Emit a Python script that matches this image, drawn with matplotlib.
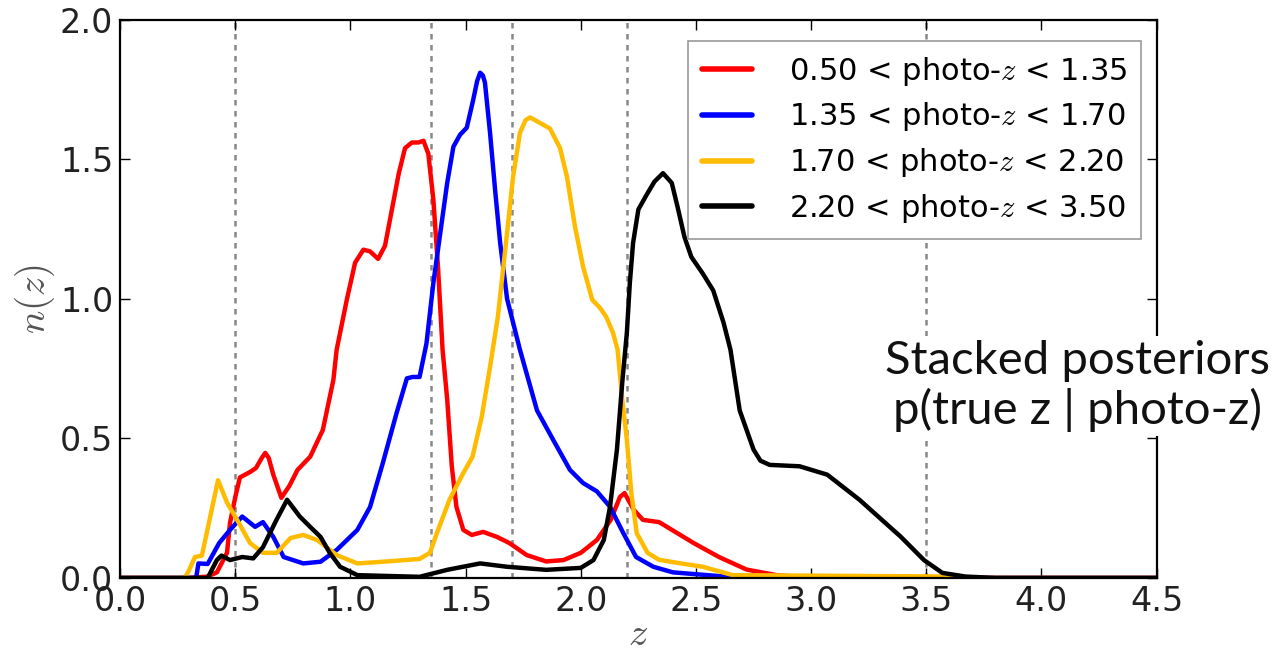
import matplotlib
matplotlib.use("Agg")
import matplotlib.pyplot as plt

# bin edges in photo-z (dashed lines)
bin_edges = [0.5, 1.35, 1.7, 2.2, 3.5]
labels = [
    r"0.50 < photo-$z$ < 1.35",
    r"1.35 < photo-$z$ < 1.70",
    r"1.70 < photo-$z$ < 2.20",
    r"2.20 < photo-$z$ < 3.50",
]

# stacked posteriors
red_z = [0.0, 0.30, 0.38, 0.42, 0.464, 0.477, 0.50, 0.52, 0.565, 0.59, 0.615, 0.63, 0.645,
         0.665, 0.70, 0.735, 0.77, 0.825, 0.88, 0.926, 0.94, 0.984, 1.02, 1.056, 1.085,
         1.12, 1.15, 1.18, 1.21, 1.237, 1.267, 1.295, 1.317, 1.338, 1.36, 1.38, 1.40, 1.42,
         1.44, 1.46, 1.49, 1.527, 1.576, 1.636, 1.69, 1.765, 1.85, 1.925, 2.0, 2.07, 2.13,
         2.17, 2.19, 2.23, 2.27, 2.34, 2.42, 2.49, 2.60, 2.72, 2.85, 3.0, 4.5]
red_n = [0.0, 0.0, 0.005, 0.02, 0.09, 0.197, 0.29, 0.36, 0.38, 0.394, 0.43, 0.448, 0.43,
         0.37, 0.287, 0.33, 0.387, 0.434, 0.53, 0.71, 0.817, 0.996, 1.129, 1.176, 1.17,
         1.143, 1.19, 1.32, 1.45, 1.54, 1.56, 1.56, 1.566, 1.52, 1.355, 1.115, 0.817, 0.64,
         0.40, 0.255, 0.172, 0.154, 0.165, 0.147, 0.125, 0.082, 0.059, 0.064, 0.09, 0.136,
         0.208, 0.29, 0.304, 0.244, 0.208, 0.20, 0.16, 0.125, 0.075, 0.03, 0.01, 0.0, 0.0]

blue_z = [0.0, 0.33, 0.34, 0.38, 0.43, 0.477, 0.53, 0.586, 0.62, 0.665, 0.71, 0.795, 0.87,
          0.94, 1.03, 1.085, 1.14, 1.20, 1.245, 1.27, 1.30, 1.33, 1.36, 1.39, 1.42, 1.447,
          1.476, 1.505, 1.533, 1.55, 1.563, 1.575, 1.584, 1.606, 1.628, 1.65, 1.68, 1.736,
          1.81, 1.88, 1.953, 2.01, 2.07, 2.127, 2.185, 2.24, 2.315, 2.40, 2.52, 2.7, 4.5]
blue_n = [0.0, 0.0, 0.052, 0.05, 0.125, 0.172, 0.22, 0.183, 0.20, 0.147, 0.075, 0.052, 0.058,
          0.10, 0.172, 0.254, 0.41, 0.59, 0.715, 0.72, 0.72, 0.84, 1.057, 1.236, 1.415, 1.545,
          1.588, 1.613, 1.713, 1.78, 1.81, 1.80, 1.774, 1.595, 1.39, 1.20, 1.0, 0.817, 0.60,
          0.495, 0.387, 0.34, 0.31, 0.255, 0.16, 0.075, 0.04, 0.02, 0.012, 0.0, 0.0]

yellow_z = [0.0, 0.28, 0.295, 0.325, 0.355, 0.40, 0.425, 0.464, 0.508, 0.564, 0.62, 0.68,
            0.74, 0.795, 0.855, 0.94, 1.03, 1.14, 1.30, 1.345, 1.375, 1.43, 1.49, 1.53,
            1.57, 1.606, 1.64, 1.68, 1.706, 1.736, 1.76, 1.78, 1.823, 1.866, 1.91, 1.94,
            1.975, 2.01, 2.05, 2.083, 2.11, 2.14, 2.16, 2.18, 2.20, 2.22, 2.243, 2.29, 2.34,
            2.42, 2.53, 2.66, 3.6, 3.7, 4.5]
yellow_n = [0.0, 0.0, 0.02, 0.075, 0.08, 0.254, 0.35, 0.27, 0.208, 0.125, 0.09, 0.09,
            0.143, 0.154, 0.136, 0.082, 0.052, 0.058, 0.068, 0.09, 0.16, 0.28, 0.376, 0.434,
            0.577, 0.756, 0.936, 1.236, 1.437, 1.595, 1.64, 1.65, 1.63, 1.61, 1.54, 1.437,
            1.258, 1.115, 0.996, 0.968, 0.936, 0.878, 0.817, 0.64, 0.495, 0.30, 0.16, 0.09,
            0.065, 0.054, 0.04, 0.01, 0.005, 0.0, 0.0]

black_z = [0.0, 0.38, 0.42, 0.44, 0.477, 0.53, 0.578, 0.62, 0.68, 0.725, 0.78, 0.825, 0.87,
           0.91, 0.955, 1.03, 1.30, 1.42, 1.563, 1.68, 1.85, 2.0, 2.055, 2.10, 2.127, 2.157,
           2.18, 2.20, 2.213, 2.227, 2.25, 2.286, 2.32, 2.357, 2.395, 2.42, 2.45, 2.48, 2.53,
           2.575, 2.62, 2.65, 2.69, 2.75, 2.78, 2.82, 2.95, 3.07, 3.21, 3.39, 3.49, 3.57,
           3.67, 3.8, 4.5]
black_n = [0.0, 0.0, 0.064, 0.08, 0.064, 0.075, 0.07, 0.11, 0.21, 0.28, 0.22, 0.183, 0.147,
           0.09, 0.04, 0.01, 0.004, 0.029, 0.052, 0.04, 0.029, 0.036, 0.064, 0.136, 0.255,
           0.46, 0.70, 0.878, 1.057, 1.20, 1.32, 1.373, 1.42, 1.45, 1.415, 1.33, 1.222, 1.15,
           1.09, 1.03, 0.914, 0.817, 0.60, 0.46, 0.42, 0.405, 0.40, 0.37, 0.28, 0.147, 0.064,
           0.018, 0.005, 0.0, 0.0]

series = [
    (red_z, red_n, "#ff0000"),
    (blue_z, blue_n, "#0000ff"),
    (yellow_z, yellow_n, "#ffbb00"),
    (black_z, black_n, "#000000"),
]

plt.rcParams["mathtext.fontset"] = "cm"
plt.rcParams["font.family"] = "DejaVu Sans"

fig = plt.figure(figsize=(12.78, 6.56), dpi=100)
ax = fig.add_axes([0.094, 0.119, 0.811, 0.851])

for edge in bin_edges:
    ax.axvline(edge, color="#888888", linestyle=(0, (2.2, 2.2)), linewidth=1.8, zorder=1)

for (zz, nn, col), lab in zip(series, labels):
    ax.plot(zz, nn, color=col, linewidth=3.2, label=lab, zorder=2,
            solid_joinstyle="round", solid_capstyle="round")

ax.set_xlim(0, 4.5)
ax.set_ylim(0, 2.0)
ax.set_xticks([0.0, 0.5, 1.0, 1.5, 2.0, 2.5, 3.0, 3.5, 4.0, 4.5])
ax.set_yticks([0.0, 0.5, 1.0, 1.5, 2.0])
ax.tick_params(direction="in", length=7, width=1, top=True, right=True,
               labelsize=24, labelcolor="#222222", pad=5)
for sp in ax.spines.values():
    sp.set_linewidth(1.6)

ax.set_xlabel(r"$z$", fontsize=28, color="#555555", labelpad=-2)
ax.set_ylabel(r"$n(z)$", fontsize=28, color="#555555", labelpad=2)

leg = ax.legend(loc="upper right", bbox_to_anchor=(0.985, 0.962), fontsize=22,
                handlelength=1.65, handletextpad=1.2, labelspacing=0.42,
                fancybox=False, framealpha=1, borderpad=0.45, borderaxespad=0)
leg.get_frame().set_edgecolor("#999999")
leg.get_frame().set_linewidth(1.2)
for ln in leg.get_lines():
    ln.set_linewidth(4)

fig.text(0.843, 0.412, "Stacked posteriors\np(true z | photo-z)", ha="center", va="center",
         fontsize=34, family="Lato", color="#111111", linespacing=1.15,
         bbox=dict(facecolor="white", edgecolor="none", pad=3))

fig.savefig("out.png", dpi=100, facecolor="white")
